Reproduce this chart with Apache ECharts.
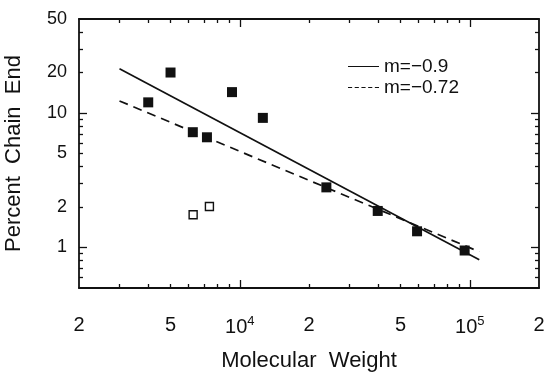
<!DOCTYPE html>
<html>
<head>
<meta charset="utf-8">
<script src="https://cdn.jsdelivr.net/npm/echarts@6/dist/echarts.min.js"></script>
<style>
  html, body { margin: 0; padding: 0; background: #fff; }
  #chart { width: 556px; height: 377px; }
</style>
</head>
<body>
<div id="chart"></div>
<script>
// filled squares
const filledWeight = [4000, 5000, 6250, 7200, 9250, 12600, 23800, 39800, 59000, 95000]
const filledPercent = [12, 20, 7.2, 6.6, 14.3, 9.2, 2.8, 1.87, 1.32, 0.95]

// open squares
const openWeight = [6270, 7380]
const openPercent = [1.75, 2.02]

// fitted lines (end points)
const fitWeight = [3000, 110000]
const fitSolid = [21.3, 0.81]
const fitDashed = [12.3, 0.93]

// axis ticks and labels
const xLabelValues = [2000, 5000, 10000, 20000, 50000, 100000, 200000]
const xMinorTicks = [3000, 4000, 5000, 6000, 7000, 8000, 9000,
  20000, 30000, 40000, 50000, 60000, 70000, 80000, 90000]
const xDecadeTicks = [10000, 100000]
const yLabelValues = [1, 2, 5, 10, 20, 50]
const yMinorTicks = [0.6, 0.7, 0.8, 0.9, 2, 3, 4, 5, 6, 7, 8, 9, 20, 30, 40]
const yDecadeTicks = [1, 10]

const font = 'Liberation Sans'
const black = '#111'

const pairs = (xs, ys) => xs.map((x, i) => [x, ys[i]])

const xLabel = v => {
  const exp = Math.floor(Math.log10(v) + 1e-9)
  const lead = Math.round(v / Math.pow(10, exp))
  if (lead === 1) return '{b|10}{s|' + exp + '}'
  return '{b|' + lead + '}'
}

const tick = (vals, len) => ({
  show: true, inside: true, length: len, customValues: vals,
  lineStyle: { color: black, width: 1.3 }
})

// one log axis; line + minor ticks, or only the longer decade ticks
const logAxis = (min, max, position, ticks, len, withLine) => ({
  type: 'log',
  logBase: 10,
  min: min,
  max: max,
  position: position,
  axisLine: { show: withLine, onZero: false, lineStyle: { color: black, width: 1.8 } },
  axisTick: tick(ticks, len),
  axisLabel: { show: false },
  splitLine: { show: false }
})

const xMain = logAxis(2000, 200000, 'bottom', xMinorTicks, 4, true)
xMain.axisLabel = {
  customValues: xLabelValues,
  margin: 27,
  formatter: xLabel,
  rich: {
    b: { fontFamily: font, fontSize: 20, color: black },
    s: { fontFamily: font, fontSize: 13, color: black, verticalAlign: 'bottom', padding: [0, 0, 11, 0] }
  }
}
xMain.name = 'Molecular  Weight'
xMain.nameLocation = 'middle'
xMain.nameGap = 62
xMain.nameTextStyle = { fontFamily: font, fontSize: 22, color: black }

const yMain = logAxis(0.5, 50, 'left', yMinorTicks, 4, true)
yMain.axisLabel = {
  customValues: yLabelValues,
  margin: 12,
  fontFamily: font,
  fontSize: 18,
  color: black,
  formatter: v => String(Math.round(v))
}
yMain.name = 'Percent  Chain  End'
yMain.nameLocation = 'middle'
yMain.nameGap = 54
yMain.nameTextStyle = { fontFamily: font, fontSize: 22, color: black }

const chart = echarts.init(document.getElementById('chart'))

chart.setOption({
  animation: false,
  grid: { left: 79, right: 17, top: 19, bottom: 89, outerBoundsMode: 'none' },
  legend: {
    left: 343,
    top: 52,
    orient: 'vertical',
    itemWidth: 31,
    itemHeight: 2,
    itemGap: 2,
    textStyle: { fontFamily: font, fontSize: 19, color: black },
    data: [
      { name: 'm=\u22120.9', icon: 'path://M0,0h30v1h-30z' },
      { name: 'm=\u22120.72', icon: 'path://M0,0h4v1h-4zM6.5,0h4v1h-4zM13,0h4v1h-4zM19.5,0h4v1h-4zM26,0h4v1h-4z' }
    ]
  },
  xAxis: [
    xMain,
    logAxis(2000, 200000, 'bottom', xDecadeTicks, 8, false),
    logAxis(2000, 200000, 'top', xMinorTicks, 4, true),
    logAxis(2000, 200000, 'top', xDecadeTicks, 8, false)
  ],
  yAxis: [
    yMain,
    logAxis(0.5, 50, 'left', yDecadeTicks, 8, false),
    logAxis(0.5, 50, 'right', yMinorTicks, 4, true),
    logAxis(0.5, 50, 'right', yDecadeTicks, 8, false)
  ],
  series: [
    {
      name: 'm=\u22120.9',
      type: 'line',
      data: pairs(fitWeight, fitSolid),
      symbol: 'none',
      lineStyle: { color: black, width: 1.7, type: 'solid' },
      itemStyle: { color: black },
      z: 2
    },
    {
      name: 'm=\u22120.72',
      type: 'line',
      data: pairs(fitWeight, fitDashed),
      symbol: 'none',
      lineStyle: { color: black, width: 1.7, type: [9, 6] },
      itemStyle: { color: black },
      z: 2
    },
    {
      name: 'filled',
      type: 'scatter',
      data: pairs(filledWeight, filledPercent),
      symbol: 'rect',
      symbolSize: 10,
      itemStyle: { color: black, opacity: 1 },
      z: 3
    },
    {
      name: 'open',
      type: 'scatter',
      data: pairs(openWeight, openPercent),
      symbol: 'rect',
      symbolSize: 8,
      itemStyle: { color: '#fff', borderColor: black, borderWidth: 1.4, opacity: 1 },
      z: 3
    }
  ]
})
</script>
</body>
</html>
